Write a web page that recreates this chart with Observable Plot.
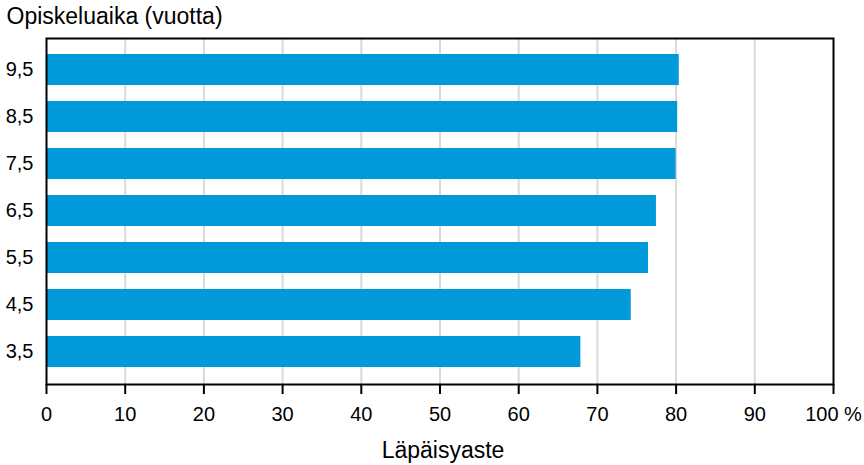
<!DOCTYPE html>
<html>
<head>
<meta charset="utf-8">
<script src="https://cdn.jsdelivr.net/npm/d3@7"></script>
<script src="https://cdn.jsdelivr.net/npm/@observablehq/plot@0.6"></script>
<style>
  body { margin: 0; background: #fff; }
</style>
</head>
<body>
<div id="chart"></div>
<script>
const categories = ["9,5", "8,5", "7,5", "6,5", "5,5", "4,5", "3,5"];
const values = [80.4, 80.2, 80.0, 77.5, 76.5, 74.3, 67.9];
const xTicks = [0, 10, 20, 30, 40, 50, 60, 70, 80, 90, 100];
const xTickLabels = ["0", "10", "20", "30", "40", "50", "60", "70", "80", "90", "100 %"];
const yTitle = "Opiskeluaika (vuotta)";
const xTitle = "Läpäisyaste";

const data = categories.map((c, i) => ({cat: c, value: values[i]}));
const font = "'Liberation Sans', Arial, sans-serif";

const chart = Plot.plot({
  width: 864,
  height: 465,
  marginLeft: 46,
  marginRight: 31,
  marginTop: 38,
  marginBottom: 81,
  style: {fontFamily: font, fontSize: "20px", color: "#000", background: "#fff"},
  x: {domain: [0, 100]},
  y: {domain: categories, paddingInner: 0.34, paddingOuter: 0.29},
  marks: [
    Plot.ruleX(xTicks.slice(1, -1), {stroke: "#d9d9d9", strokeWidth: 2}),
    Plot.barX(data, {x: "value", y: "cat", fill: "#0099d9"}),
    Plot.frame({stroke: "#000", strokeWidth: 2}),
    Plot.axisX({
      ticks: xTicks,
      tickFormat: (d, i) => xTickLabels[xTicks.indexOf(d)],
      tickSize: 10,
      tickPadding: 12,
      strokeWidth: 2,
      label: null,
      fontSize: 20
    }),
    Plot.axisY({tickSize: 0, tickPadding: 13, label: null, fontSize: 20}),
    Plot.text([yTitle], {frameAnchor: "top-left", dx: -40, dy: -22, lineAnchor: "middle", textAnchor: "start", fontSize: 23, fill: "#000"}),
    Plot.text([xTitle], {frameAnchor: "bottom", dy: 66, dx: 3, lineAnchor: "middle", fontSize: 23, fill: "#000"})
  ]
});
document.getElementById("chart").append(chart);
</script>
</body>
</html>
